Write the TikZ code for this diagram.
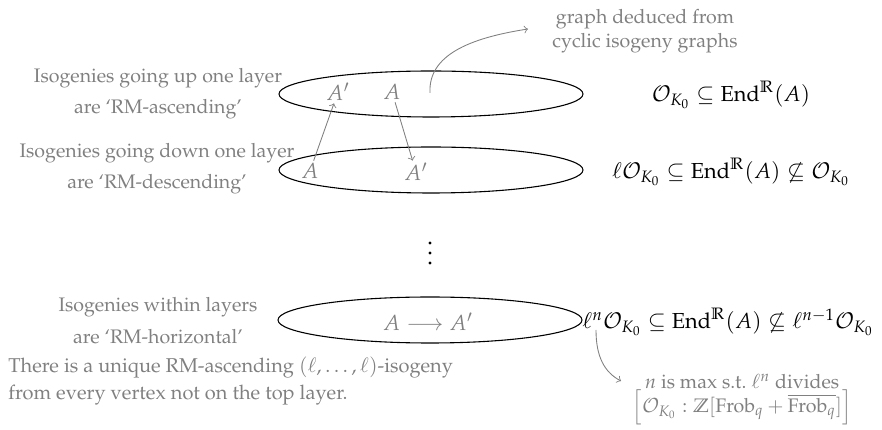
\documentclass[tikz,border=0pt]{standalone}
\usepackage[T1]{fontenc}
\usepackage{amsmath,amssymb}
\usepackage{mathpazo}
\usetikzlibrary{shapes.geometric}
\begin{document}
\begin{tikzpicture}[x=0.46pt,y=-0.46pt,
  lbl/.style={text=black!50, font=\small, align=center, inner sep=0pt},
  vtx/.style={text=black!50, inner sep=1pt},
  layer/.style={draw, ellipse, line width=0.5pt, minimum width=304*0.46pt, minimum height=46*0.46pt, inner sep=0pt},
  garr/.style={draw=black!50, ->, line width=0.4pt},
  eq/.style={inner sep=0pt},
  dot/.style={circle, fill=black, inner sep=0pt, minimum size=1.4pt}]
\useasboundingbox (0,0) rectangle (882,430);
% layers
\node[layer] (L1) at (431,94) {};
\node[layer] (L2) at (431,170) {};
\node[layer] (L3) at (430,320) {};
% left labels
\node[lbl] (t1) at (158,94) {Isogenies going up one layer\\[3.2pt] are `RM-ascending'};
\node[lbl] (t2) at (157,169) {Isogenies going down one layer\\[3.2pt] are `RM-descending'};
\node[lbl] (t3) at (158,321) {Isogenies within layers\\[3.8pt] are `RM-horizontal'};
\node[lbl, align=left, anchor=west, font=\fontsize{9.2}{11.2}\selectfont] (t4) at (8,381) {There is a unique RM-ascending $(\ell,\ldots,\ell)$-isogeny\\[1.4pt] from every vertex not on the top layer.};
\node[lbl] (t5) at (645,31) {graph deduced from\\ cyclic isogeny graphs};
\node[lbl] (t6) at (742,400) {$n$ is max s.t.\ $\ell^n$ divides\\ $\Big[\mathcal{O}_{K_0} : \mathbb{Z}[\mathrm{Frob}_q+\overline{\mathrm{Frob}_q}]\Big]$};
% right equations
\node[eq] (e1) at (731,95) {$\mathcal{O}_{K_0} \subseteq \mathrm{End}^{\mathbb{R}}(A)$};
\node[eq] (e2) at (731,172) {$\ell\mathcal{O}_{K_0} \subseteq \mathrm{End}^{\mathbb{R}}(A) \not\subseteq \mathcal{O}_{K_0}$};
\node[eq, anchor=west] (e3) at (582,322) {$\ell^n\mathcal{O}_{K_0} \subseteq \mathrm{End}^{\mathbb{R}}(A) \not\subseteq \ell^{n-1}\mathcal{O}_{K_0}$};
% vertices
\node[vtx] (a1p) at (338,92) {$A'$};
\node[vtx] (a1) at (392,92) {$A$};
\node[vtx] (a2) at (310,171) {$A$};
\node[vtx] (a2p) at (416,172) {$A'$};
\draw[garr] (a2) -- (a1p);
\draw[garr] (a1) -- (a2p);
\node[vtx] (h) at (428,322) {$A \longrightarrow A'$};
% vertical dots
\node[dot] (d1) at (430,243) {};
\node[dot] (d2) at (430,253) {};
\node[dot] (d3) at (430,263) {};
% curved arrows
\coordinate (c1s) at (430,93);
\coordinate (c1e) at (528,29);
\draw[garr] (c1s) .. controls (428,55) and (470,38) .. (c1e);
\coordinate (c2s) at (596,330);
\coordinate (c2e) at (621,381);
\draw[garr] (c2s) .. controls (596,356) and (604,372) .. (c2e);
\end{tikzpicture}
\end{document}
